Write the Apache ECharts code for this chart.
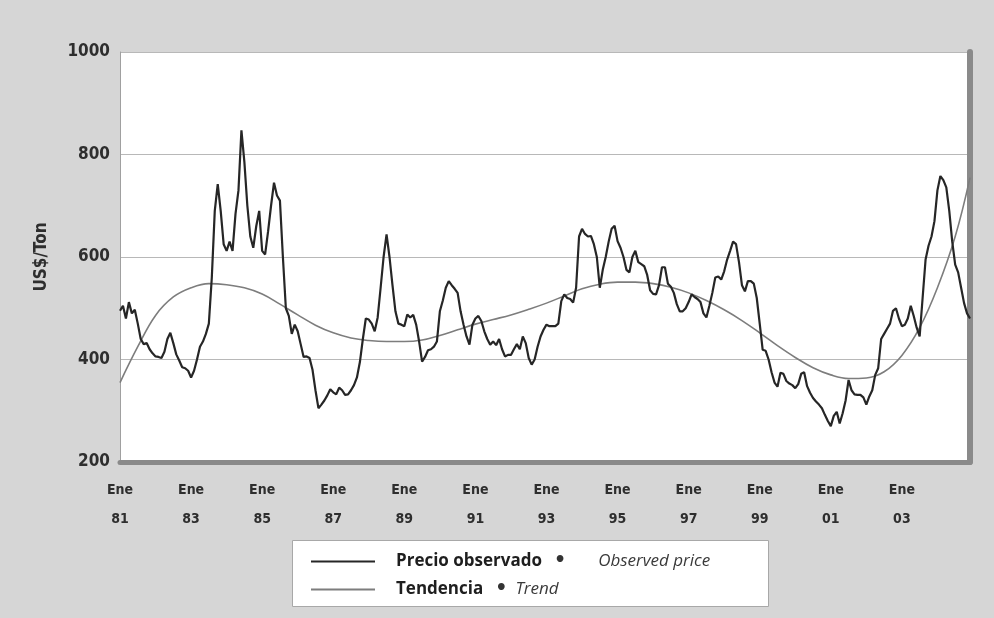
<!DOCTYPE html>
<html>
<head>
<meta charset="utf-8">
<script src="https://cdn.jsdelivr.net/npm/echarts@6/dist/echarts.min.js"></script>
<style>
html,body{margin:0;padding:0;background:#d6d6d6;}
#chart{width:994px;height:618px;}
</style>
</head>
<body>
<div id="chart"></div>
<script>
// Monthly observed price, US$/Ton, January 1981 (index 0) to December 2004 (index 287)
const price = [
  495, 505, 480, 512, 490, 497, 470, 440, 430, 432,
  420, 412, 406, 405, 403, 415, 440, 452, 432, 410,
  398, 385, 383, 378, 365, 378, 400, 425, 435, 450,
  470, 560, 690, 742, 690, 625, 612, 630, 612, 684,
  730, 847, 785, 700, 640, 618, 660, 690, 612, 605,
  650, 700, 745, 720, 710, 600, 500, 485, 450, 468,
  455, 430, 405, 406, 403, 380, 340, 305, 312, 320,
  330, 342, 336, 332, 345, 340, 331, 332, 340, 350,
  365, 395, 440, 480, 478, 470, 455, 482, 540, 600,
  644, 600, 545, 494, 470, 468, 465, 488, 482, 487,
  468, 435, 396, 405, 418, 420, 425, 435, 494, 515,
  540, 553, 545, 538, 530, 494, 468, 445, 429, 468,
  480, 485, 475, 455, 440, 429, 435, 428, 440, 420,
  406, 409, 409, 420, 430, 420, 445, 432, 403, 390,
  400, 425, 445, 458, 468, 465, 465, 465, 470, 514,
  527, 520, 518, 511, 540, 640, 655, 645, 640, 641,
  625, 600, 540, 575, 600, 630, 655, 661, 631, 618,
  600, 575, 570, 600, 612, 590, 586, 582, 565, 535,
  528, 527, 545, 580, 580, 548, 542, 530, 508, 494,
  494, 500, 512, 527, 522, 518, 512, 490, 482, 505,
  530, 560, 562, 556, 572, 595, 612, 630, 625, 590,
  545, 533, 553, 553, 548, 520, 470, 419, 417, 400,
  375, 355, 347, 374, 372, 358, 353, 350, 344, 352,
  372, 375, 348, 335, 325, 318, 312, 305, 292, 280,
  270, 290, 298, 275, 295, 320, 360, 340, 332, 331,
  331, 326, 312, 328, 340, 370, 383, 440, 450, 460,
  470, 495, 500, 480, 465, 468, 480, 505, 485, 462,
  445, 520, 595, 622, 640, 670, 730, 758, 750, 736,
  690, 630, 585, 570, 540, 510, 490, 480
];
// Trend curve, read at selected months (index from January 1981)
const trendMonths = [0, 6, 12, 18, 24, 30, 36, 42, 48, 54, 60, 66, 72, 78, 84, 90, 96, 102, 108, 114, 120, 126, 132, 138, 144, 150, 156, 162, 168, 174, 180, 186, 192, 198, 204, 210, 216, 222, 228, 234, 240, 246, 252, 258, 264, 270, 276, 282, 287];
const trendValues = [355, 425, 486, 522, 540, 548, 546, 540, 528, 508, 487, 467, 452, 442, 437, 435, 435, 438, 447, 458, 469, 478, 487, 498, 510, 524, 538, 547, 551, 551, 548, 541, 530, 515, 497, 476, 452, 427, 404, 384, 370, 363, 364, 376, 408, 462, 540, 640, 755];
// X tick labels (every 24 months)
const tickMonth = 'Ene';
const tickYears = ['81', '83', '85', '87', '89', '91', '93', '95', '97', '99', '01', '03'];
const yTicks = [200, 400, 600, 800, 1000];
const seriesNames = ['Precio observado', 'Tendencia'];
const seriesNamesEn = ['Observed price', 'Trend'];

const chart = echarts.init(document.getElementById('chart'), null, {renderer: 'canvas'});
const priceData = price.map((v, i) => [i, v]);
const trendData = trendMonths.map((m, i) => [m, trendValues[i]]);

const option = {
  backgroundColor: '#d6d6d6',
  animation: false,
  grid: {left: 120, right: 24, top: 52, bottom: 156, containLabel: false,
         show: true, backgroundColor: '#ffffff', borderWidth: 0},
  graphic: [
    {type: 'rect', left: 292, top: 540, shape: {width: 476, height: 66},
     style: {fill: '#ffffff', stroke: '#a8a8a8', lineWidth: 1}, z: 0}
  ],
  legend: {
    orient: 'vertical', left: 306, top: 547, itemGap: 9,
    icon: 'rect', itemWidth: 64, itemHeight: 2,
    data: seriesNames,
    formatter: function (name) {
      const k = seriesNames.indexOf(name);
      return '{b|' + name + '}{d|•}' + (k === 0 ? '{i1|' : '{i2|') + seriesNamesEn[k] + '}';
    },
    textStyle: {
      rich: {
        b: {fontFamily: 'Open Sans', fontWeight: 'bold', fontSize: 17, color: '#1e1e1e', padding: [0, 0, 0, 16], lineHeight: 21},
        d: {fontFamily: 'DejaVu Sans', fontWeight: 'bold', fontSize: 19, color: '#333', padding: [0, 0, 0, 12]},
        i1: {fontFamily: 'Open Sans', fontStyle: 'italic', fontSize: 17, color: '#3a3a3a', padding: [0, 0, 0, 32]},
        i2: {fontFamily: 'Open Sans', fontStyle: 'italic', fontSize: 17, color: '#3a3a3a', padding: [0, 0, 0, 8]}
      }
    }
  },
  xAxis: {
    type: 'value', min: 0, max: 287, interval: 24,
    axisLine: {show: true, lineStyle: {color: '#8a8a8a', width: 5}},
    axisTick: {show: false},
    splitLine: {show: false},
    axisLabel: {
      showMaxLabel: false,
      margin: 14,
      formatter: function (v) {
        const y = tickYears[Math.round(v / 24)];
        return y === undefined ? '' : tickMonth + '\n' + y;
      },
      fontFamily: 'DejaVu Sans Condensed, Liberation Sans Narrow, sans-serif',
      fontWeight: 'bold', fontSize: 14, lineHeight: 29, color: '#2e2e2e'
    }
  },
  yAxis: [
    {
      type: 'value', min: yTicks[0], max: yTicks[yTicks.length - 1], interval: 200,
      name: 'US$/Ton', nameLocation: 'middle', nameGap: 70,
      nameTextStyle: {fontFamily: 'DejaVu Sans Condensed, DejaVu Sans, sans-serif', fontWeight: 'bold', fontSize: 17, color: '#2e2e2e'},
      axisLine: {show: true, lineStyle: {color: '#a0a0a0', width: 1}},
      axisTick: {show: false},
      splitLine: {show: true, lineStyle: {color: '#b8b8b8', width: 1}},
      axisLabel: {fontFamily: 'DejaVu Sans Condensed, DejaVu Sans, sans-serif', fontWeight: 'bold', fontSize: 17, color: '#2e2e2e', margin: 10,
                  formatter: function (v) { return String(v); }}
    },
    {
      type: 'value', position: 'right', min: yTicks[0], max: yTicks[yTicks.length - 1], interval: 200,
      axisLine: {show: true, lineStyle: {color: '#8a8a8a', width: 6}},
      axisTick: {show: false}, axisLabel: {show: false}, splitLine: {show: false}
    }
  ],
  series: [
    {
      name: seriesNames[0], type: 'line', data: priceData, yAxisIndex: 0,
      showSymbol: false, symbol: 'none',
      lineStyle: {color: '#262626', width: 2.2}, itemStyle: {color: '#262626'}, z: 3
    },
    {
      name: seriesNames[1], type: 'line', data: trendData, yAxisIndex: 0,
      smooth: 0.4, showSymbol: false, symbol: 'none',
      lineStyle: {color: '#7d7d7d', width: 1.6}, itemStyle: {color: '#7d7d7d'}, z: 2
    }
  ]
};
chart.setOption(option);
</script>
</body>
</html>
